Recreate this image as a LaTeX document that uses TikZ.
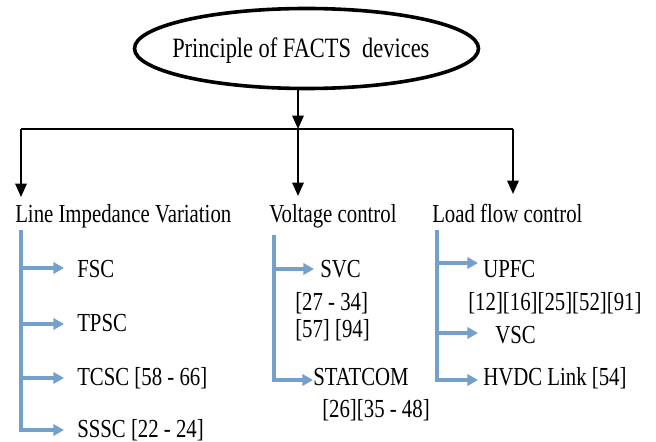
\documentclass[tikz,border=0pt]{standalone}
\usepackage{fontspec}
\setmainfont[FakeStretch=0.8]{Liberation Serif}
\usetikzlibrary{arrows.meta,shapes.geometric}
\definecolor{linkblue}{RGB}{116,160,204}
\tikzset{
  lbl/.style={anchor=base west,inner sep=0pt,font=\fontsize{19.5}{21}\selectfont},
  blk/.style={draw=black,line width=1.5pt},
  blkarrow/.style={blk,-{Triangle[length=10pt,width=8.5pt]}},
  bl/.style={draw=linkblue,line width=2.4pt},
  blarrow/.style={bl,-{Triangle[length=8pt,width=8.5pt]}},
  root/.style={ellipse,draw=black,line width=2.7pt,minimum width=258pt,minimum height=60pt,inner sep=0pt}
}
\begin{document}
\begin{tikzpicture}[x=0.75pt,y=-0.75pt]
\useasboundingbox (0,0) rectangle (656,442);
% root
\node[root] (root) at (306.5,48.5) {};
\node[lbl,font=\fontsize{21}{23}\selectfont] (roottxt) at (172,58) {Principle of FACTS\ \ devices};
% black tree
\coordinate (rb) at (298,89);
\coordinate (hm) at (298,129);
\coordinate (hl) at (21,129);
\coordinate (hr) at (513,129);
\coordinate (tl) at (21,197);
\coordinate (tm) at (298,196);
\coordinate (tr) at (513,194);
\draw[blkarrow] (rb) -- (hm);
\draw[blk] (hl) -- (hr);
\draw[blkarrow] (hl) -- (tl);
\draw[blkarrow] (hm) -- (tm);
\draw[blkarrow] (hr) -- (tr);
% category labels
\node[lbl] (liv) at (15,222) {Line Impedance Variation};
\node[lbl] (vc) at (269,222) {Voltage control};
\node[lbl] (lfc) at (432,222) {Load flow control};
% left group
\node[lbl] (fsc) at (77,277) {FSC};
\node[lbl] (tpsc) at (77,331) {TPSC};
\node[lbl] (tcsc) at (77,385) {TCSC [58 - 66]};
\node[lbl] (sssc) at (77,437) {SSSC [22 - 24]};
\coordinate (l0) at (21,230);
\coordinate (l1) at (21,268);
\coordinate (l2) at (21,324);
\coordinate (l3) at (21,378);
\coordinate (a1) at (64,268);
\coordinate (a2) at (64,324);
\coordinate (a3) at (64,378);
\coordinate (a4) at (64,430);
\draw[blarrow] (l0) |- (a4);
\draw[blarrow] (l1) -- (a1);
\draw[blarrow] (l2) -- (a2);
\draw[blarrow] (l3) -- (a3);
% middle group
\node[lbl] (svc) at (320,277) {SVC};
\node[lbl] (svcref1) at (295,310) {[27 - 34]};
\node[lbl] (svcref2) at (295,337) {[57] [94]};
\node[lbl] (statcom) at (313,385) {STATCOM};
\node[lbl] (statref) at (322,417) {[26][35 - 48]};
\coordinate (m0) at (274,235);
\coordinate (m1) at (274,269);
\coordinate (b1) at (314,269);
\coordinate (b2) at (313,380);
\draw[blarrow] (m0) |- (b2);
\draw[blarrow] (m1) -- (b1);
% right group
\node[lbl] (upfc) at (483,277) {UPFC};
\node[lbl] (upfcref) at (468,310) {[12][16][25][52][91]};
\node[lbl] (vsc) at (495,343) {VSC};
\node[lbl] (hvdc) at (483,385) {HVDC Link [54]};
\coordinate (r0) at (437,230);
\coordinate (r1) at (437,263);
\coordinate (r2) at (437,333);
\coordinate (c1) at (478,263);
\coordinate (c2) at (478,333);
\coordinate (c3) at (478,380);
\draw[blarrow] (r0) |- (c3);
\draw[blarrow] (r1) -- (c1);
\draw[blarrow] (r2) -- (c2);
\end{tikzpicture}
\end{document}
